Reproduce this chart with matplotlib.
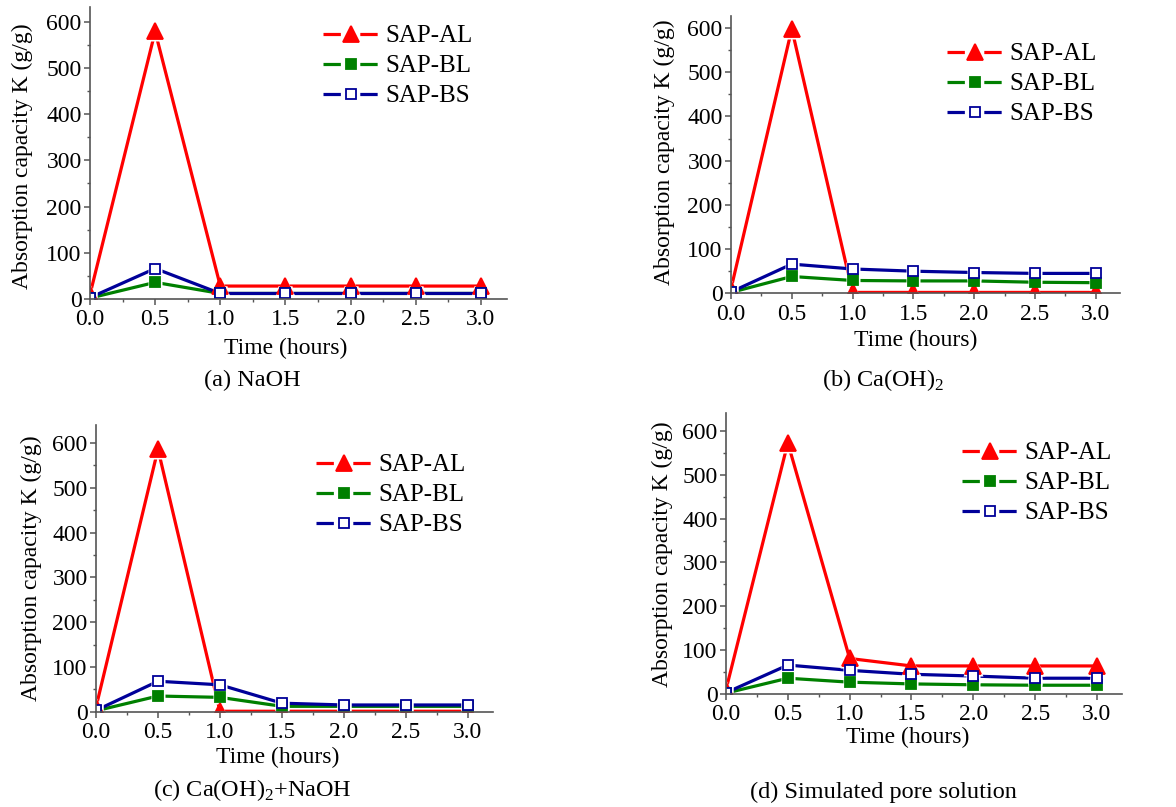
import matplotlib
matplotlib.use("Agg")
import matplotlib.pyplot as plt
from matplotlib.lines import Line2D
from matplotlib.ticker import MultipleLocator, FormatStrFormatter

plt.rcParams['font.family'] = ['Liberation Serif', 'DejaVu Serif']
plt.rcParams['mathtext.fontset'] = 'custom'
plt.rcParams['mathtext.rm'] = 'Liberation Serif'
plt.rcParams['lines.scale_dashes'] = False

time = [0.0, 0.5, 1.0, 1.5, 2.0, 2.5, 3.0]
series_names = ['SAP-AL', 'SAP-BL', 'SAP-BS']

naoh_al = [10, 579, 28, 28, 28, 28, 28]
naoh_bl = [2, 36, 12, 12, 12, 12, 12]
naoh_bs = [3, 66, 12, 12, 12, 12, 12]

caoh_al = [10, 598, 2, 2, 2, 2, 2]
caoh_bl = [2, 38, 29, 28, 28, 25, 24]
caoh_bs = [3, 66, 55, 50, 47, 45, 45]

mix_al = [10, 586, 1, 1, 1, 1, 1]
mix_bl = [2, 35, 32, 12, 12, 12, 12]
mix_bs = [3, 68, 60, 19, 15, 15, 15]

pore_al = [10, 573, 81, 64, 64, 64, 64]
pore_bl = [2, 36, 27, 23, 21, 20, 20]
pore_bs = [3, 66, 54, 45, 41, 36, 36]

captions = ['(a) NaOH', r'(b) Ca(OH)$_\mathrm{2}$',
            r'(c) Ca(OH)$_\mathrm{2}$+NaOH', '(d) Simulated pore solution']

colors = ['#ff0000', '#008000', '#000099']
markers = ['^', 's', 's']
mfaces = ['#ff0000', '#008000', 'white']
msizes = [11, 7, 7.5]

W, H = 1176, 807
fig = plt.figure(figsize=(W / 100, H / 100), dpi=100)

# axes boxes in pixels: left, right, top, bottom
boxes = [
    (90, 507, 7, 299),
    (731, 1120, 16, 293.3),
    (96, 492.7, 425, 711.7),
    (726, 1121.7, 413, 694),
]
ytops = [632, 627, 640, 641]
cap_pos = [(252, 380), (883, 380), (252, 790), (883, 792)]
xlab_pos = [(0.47, -0.134), (0.476, -0.132), (0.457, -0.122), (0.459, -0.116)]
ylab_pos = [(-0.137, 0.49), (-0.144, 0.51), (-0.136, 0.50), (-0.134, 0.498)]
# legend: handle start x, middle row y (pixels)
leg_pos = [(323, 66), (947, 84), (316, 495), (962, 483)]
data = [
    (naoh_al, naoh_bl, naoh_bs),
    (caoh_al, caoh_bl, caoh_bs),
    (mix_al, mix_bl, mix_bs),
    (pore_al, pore_bl, pore_bs),
]

axis_col = '#555555'
lw = 2.3
for i, (l, r, t, b) in enumerate(boxes):
    ax = fig.add_axes([l / W, 1 - b / H, (r - l) / W, (b - t) / H])
    for j, ys in enumerate(data[i]):
        ax.plot(time, ys, color=colors[j], lw=lw, zorder=2 + j * 0.1)
        ax.plot(time, ys, ls='none', marker=markers[j], ms=msizes[j] + 3,
                mfc='white', mec='none', zorder=3 + j * 0.1)
        ax.plot(time, ys, ls='none', marker=markers[j], ms=msizes[j],
                mfc=mfaces[j], mec=colors[j], mew=1.3, zorder=4 + j * 0.1)
    ax.set_xlim(0, 3.2)
    ax.set_ylim(0, ytops[i])
    ax.xaxis.set_major_locator(MultipleLocator(0.5))
    ax.xaxis.set_minor_locator(MultipleLocator(0.25))
    ax.yaxis.set_major_locator(MultipleLocator(100))
    ax.yaxis.set_minor_locator(MultipleLocator(50))
    ax.xaxis.set_major_formatter(FormatStrFormatter('%.1f'))
    for s in ['top', 'right']:
        ax.spines[s].set_visible(False)
    for s in ['left', 'bottom']:
        ax.spines[s].set_color(axis_col)
        ax.spines[s].set_linewidth(1.2)
        ax.spines[s].set_zorder(5)
    ax.tick_params(which='major', direction='out', length=4.5, width=1.1,
                   color=axis_col, labelsize=17)
    ax.tick_params(axis='x', which='major', pad=3)
    ax.tick_params(axis='y', which='major', pad=1.5)
    ax.tick_params(which='minor', direction='out', length=2.5, width=1.0,
                   color=axis_col)
    ax.set_xlabel('Time (hours)', fontsize=17)
    ax.set_ylabel('Absorption capacity K (g/g)', fontsize=17)
    ax.xaxis.set_label_coords(*xlab_pos[i])
    ax.yaxis.set_label_coords(*ylab_pos[i])

    handles = []
    for j in range(3):
        handles.append(Line2D([], [], color=colors[j], lw=lw,
                              linestyle=(0, (12.5, 14, 12.5)),
                              marker=markers[j], ms=msizes[j],
                              mfc=mfaces[j], mec=colors[j], mew=1.3))
    hx, hy = leg_pos[i]
    ax.legend(handles, series_names, loc='center left',
              bbox_to_anchor=(hx / W, 1 - hy / H),
              bbox_transform=fig.transFigure, frameon=False, fontsize=18,
              handlelength=2.2, handletextpad=0.3, labelspacing=0.3,
              borderpad=0, borderaxespad=0)

    cx, cy = cap_pos[i]
    fig.text(cx / W, 1 - cy / H, captions[i], ha='center', va='center',
             fontsize=17.5)

fig.savefig('out.png', dpi=100)
